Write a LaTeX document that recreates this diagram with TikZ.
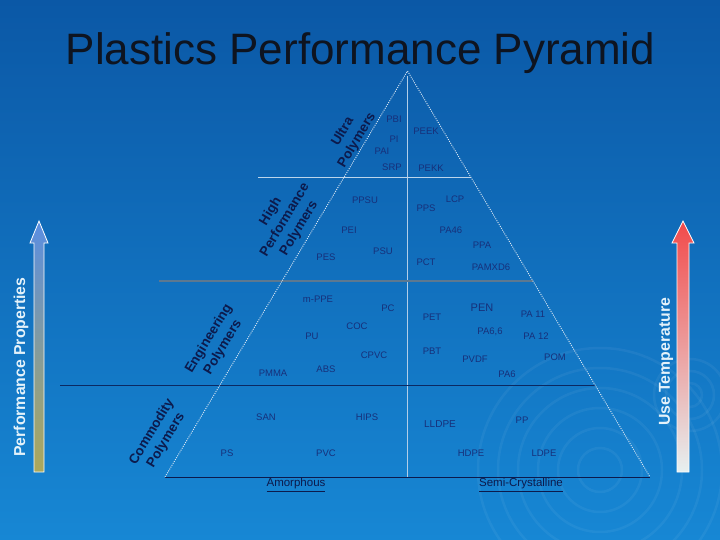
\documentclass[tikz,border=0pt]{standalone}
\usepackage{fontspec}
\setmainfont{Liberation Sans}
\usepackage{tikz}

\definecolor{slidetop}{HTML}{0B58A6}
\definecolor{slidemid}{HTML}{0867B8}
\definecolor{slidebot}{HTML}{1787D4}
\definecolor{titleink}{HTML}{0E1420}
\definecolor{groupink}{HTML}{0C1A4C}
\definecolor{polyink}{HTML}{17307A}
\definecolor{axisink}{HTML}{E4F2FA}
\definecolor{edgeink}{HTML}{DCE8F4}
\definecolor{propstop}{HTML}{5A8EE2}
\definecolor{propsbot}{HTML}{ACA85A}
\definecolor{heattop}{HTML}{F24A4A}
\definecolor{heatbot}{HTML}{E6F0F0}

\begin{document}
\begin{tikzpicture}[x=1pt, y=-1pt,
poly/.style={font=\fontsize{9.5}{11}\selectfont, text=polyink, inner sep=0pt},
group/.style={font=\bfseries\fontsize{13.5}{16.5}\selectfont, text=groupink, align=center, rotate=59, inner sep=0pt},
side/.style={font=\fontsize{11.5}{13}\selectfont, text=groupink, inner sep=0pt},
axislabel/.style={font=\bfseries\fontsize{15.8}{17}\selectfont, text=axisink, rotate=90, inner sep=0pt},
edge/.style={draw=edgeink, line width=0.9pt, dash pattern=on 1pt off 1.2pt},
ring/.style={draw=white, opacity=0.05, line width=2.5pt}
]
% slide background
\shade[top color=slidetop, middle color=slidemid, bottom color=slidebot] (0,0) rectangle (720,540);
\clip (0,0) rectangle (720,540);
\foreach \r in {22,42,62,82,102,122}
  \draw[ring] (600,470) circle (\r);
\foreach \r in {12,24,36}
  \draw[ring] (690,395) circle (\r);

\node[font=\fontsize{44}{48}\selectfont, text=titleink, anchor=base, inner sep=0pt] (title) at (360.5,65) {Plastics Performance Pyramid};

% pyramid
\coordinate (apex) at (407.5,71);
\coordinate (leftfoot) at (165,477);
\coordinate (rightfoot) at (650,477);
\draw[draw=edgeink!80!slidemid, line width=0.7pt] (407.5,76) -- (407.5,477);
\draw[draw=edgeink!85!slidemid, line width=0.8pt] (258,177) -- (471,177);
\draw[draw=gray!70!slidemid, line width=1.1pt] (159,281) -- (533,281);
\draw[draw=groupink!80!slidemid, line width=0.8pt] (60,385) -- (595,385);
\draw[draw=groupink, line width=0.9pt] (leftfoot) -- (rightfoot);
\draw[edge] (leftfoot) -- (apex) -- (rightfoot);

% groups
\node[group] (ultra) at (350,136) {Ultra\\Polymers};
\node[group] (highperf) at (285,220) {High\\Performance\\Polymers};
\node[group] (engg) at (216,343) {Engineering\\Polymers};
\node[group] (commodity) at (159,436) {Commodity\\Polymers};

% ultra polymers
\node[poly] (pbi) at (394,119) {PBI};
\node[poly] (pi) at (394,139) {PI};
\node[poly] (pai) at (382,151) {PAI};
\node[poly] (srp) at (392,167) {SRP};
\node[poly] (peek) at (426,131) {PEEK};
\node[poly] (pekk) at (431,168) {PEKK};

% high performance polymers
\node[poly] (ppsu) at (365,200) {PPSU};
\node[poly] (pei) at (349,230) {PEI};
\node[poly] (pes) at (326,257) {PES};
\node[poly] (psu) at (383,251) {PSU};
\node[poly] (pps) at (426,208) {PPS};
\node[poly] (lcp) at (455,199) {LCP};
\node[poly] (pa46) at (451,230) {PA46};
\node[poly] (ppa) at (482,245) {PPA};
\node[poly] (pct) at (426,262) {PCT};
\node[poly] (pamxd6) at (491,267) {PAMXD6};

% engineering polymers
\node[poly] (mppe) at (318,299) {m-PPE};
\node[poly] (pc) at (388,308) {PC};
\node[poly] (coc) at (357,326) {COC};
\node[poly] (pu) at (312,336) {PU};
\node[poly] (cpvc) at (374,355) {CPVC};
\node[poly] (pmma) at (273,373) {PMMA};
\node[poly] (abs) at (326,369) {ABS};
\node[poly] (pet) at (432,317) {PET};
\node[poly, font=\fontsize{11}{12}\selectfont] (pen) at (482,308) {PEN};
\node[poly] (pa11) at (533,314) {PA 11};
\node[poly] (pa66) at (490,332) {PA6,6};
\node[poly] (pa12) at (536,336) {PA 12};
\node[poly] (pbt) at (432,351) {PBT};
\node[poly] (pvdf) at (475,359) {PVDF};
\node[poly] (pom) at (555,357) {POM};
\node[poly] (pa6) at (507,374) {PA6};

% commodity polymers
\node[poly] (san) at (266,417) {SAN};
\node[poly] (hips) at (367,417) {HIPS};
\node[poly, font=\fontsize{10}{11}\selectfont] (lldpe) at (440,424) {LLDPE};
\node[poly] (pp) at (522,420) {PP};
\node[poly] (ps) at (227,453) {PS};
\node[poly] (pvc) at (326,453) {PVC};
\node[poly] (hdpe) at (471,453) {HDPE};
\node[poly] (ldpe) at (544,453) {LDPE};

\node[side] (amorph) at (296,485) {\underline{Amorphous}};
\node[side] (semicryst) at (521,485) {\underline{Semi-Crystalline}};

% side arrows
\shadedraw[draw=white, line width=0.8pt, top color=propstop, bottom color=propsbot]
  (34,472) -- (34,243) -- (30,243) -- (39,221) -- (48,243) -- (44,243) -- (44,472) -- cycle;
\shadedraw[draw=white, line width=0.8pt, top color=heattop, bottom color=heatbot]
  (677,472) -- (677,243) -- (672,243) -- (683,221) -- (694,243) -- (689,243) -- (689,472) -- cycle;
\node[axislabel] (perf) at (21,367) {Performance Properties};
\node[axislabel] (usetemp) at (666,362) {Use Temperature};
\end{tikzpicture}
\end{document}
